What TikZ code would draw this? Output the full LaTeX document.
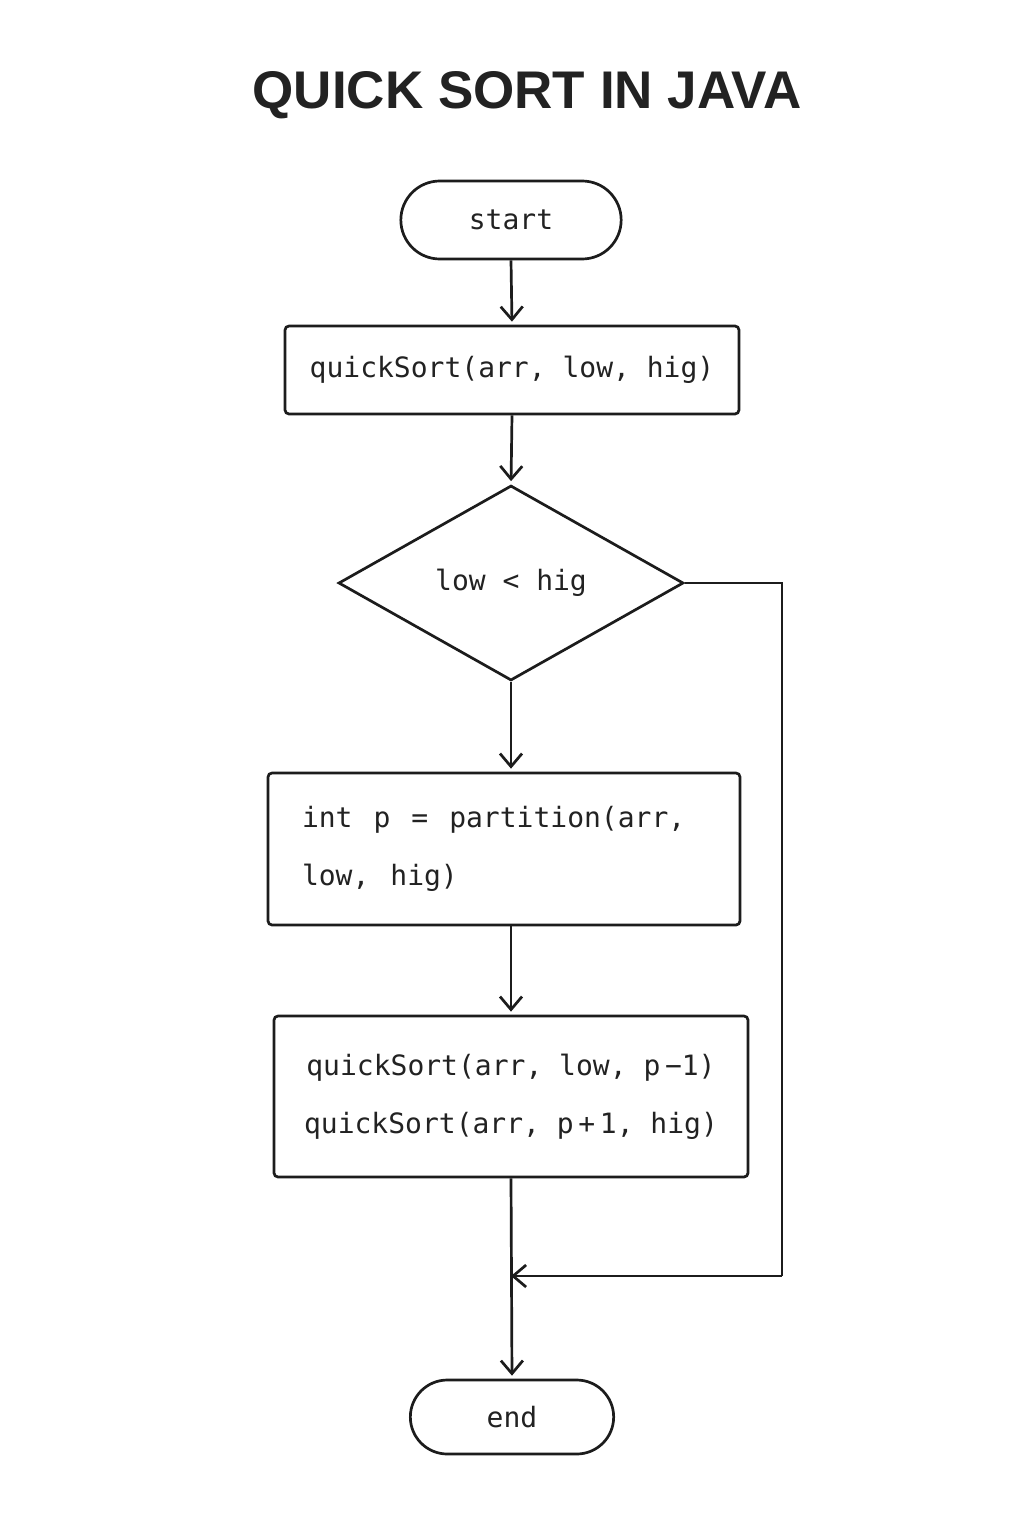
\documentclass[tikz,border=0pt]{standalone}
\usepackage{fontspec}
\setmainfont{Liberation Sans}
\newfontfamily\codefont{DejaVu Sans Mono}
\usetikzlibrary{shapes.geometric,shapes.misc,arrows.meta}
\definecolor{ink}{HTML}{1C1C1C}
\definecolor{txt}{HTML}{222222}
\newcommand{\wsp}{\hspace{21pt}}
\tikzset{
  box/.style={draw=ink, line width=2.7pt, rounded corners=4pt, text=txt,
    font=\codefont\fontsize{28}{58}\selectfont},
  pill/.style={draw=ink, line width=2.7pt, rounded rectangle, text=txt,
    font=\codefont\fontsize{28}{34}\selectfont},
  decision/.style={draw=ink, line width=2.7pt, diamond, text=txt, inner sep=0pt,
    font=\codefont\fontsize{28}{34}\selectfont},
  conn/.style={draw=ink, line width=2.7pt, shorten >=3pt,
    -{Straight Barb[length=13pt,width=22pt,line width=2.7pt]}},
  line/.style={draw=ink, line width=2.7pt},
}
\begin{document}
\begin{tikzpicture}[x=1pt,y=-1pt]
\useasboundingbox[fill=white] (0,0) rectangle (1024,1536);
\node[text=txt, font=\bfseries\fontsize{53}{60}\selectfont] (title) at (527,95) {QUICK SORT IN JAVA};
\node[pill, minimum width=227pt, minimum height=78pt] (start) at (511,220) {start};
\node[box, minimum width=454pt, minimum height=88pt, inner sep=0pt] (qs) at (512,370) {\hbox{quickSort(arr, low, hig)}};
\node[decision, minimum width=345pt, minimum height=195pt] (dec) at (511,583) {low < hig};
\node[box, minimum width=472pt, minimum height=152pt, inner sep=0pt, text width=404pt, align=left] (part) at (504,849) {\hbox{int\wsp p\wsp =\wsp partition(arr,}\\\hbox{low,\wsp hig)}};
\node[box, minimum width=474pt, minimum height=161pt, inner sep=0pt, align=center] (rec) at (511,1096.5) {\hbox{quickSort(arr, low, p\,−1)}\\\hbox{quickSort(arr, p\,+\,1, hig)}};
\node[pill, minimum width=210pt, minimum height=74pt] (end) at (512,1417) {end};
\coordinate (r1) at (782,583);
\coordinate (r2) at (782,1276);
\coordinate (join) at (511,1276);
\draw[conn] (start.south) -- (qs.north);
\draw[conn] (qs.south) -- (dec.north);
\draw[conn] (dec.south) -- (dec.south |- part.north);
\draw[conn] (part.south -| rec.north) -- (rec.north);
\draw[conn] (rec.south) -- (end.north);
\draw[line] (dec.east) -- (r1) -- (r2);
\draw[conn, shorten >=0pt] (r2) -- (join);
\end{tikzpicture}
\end{document}
